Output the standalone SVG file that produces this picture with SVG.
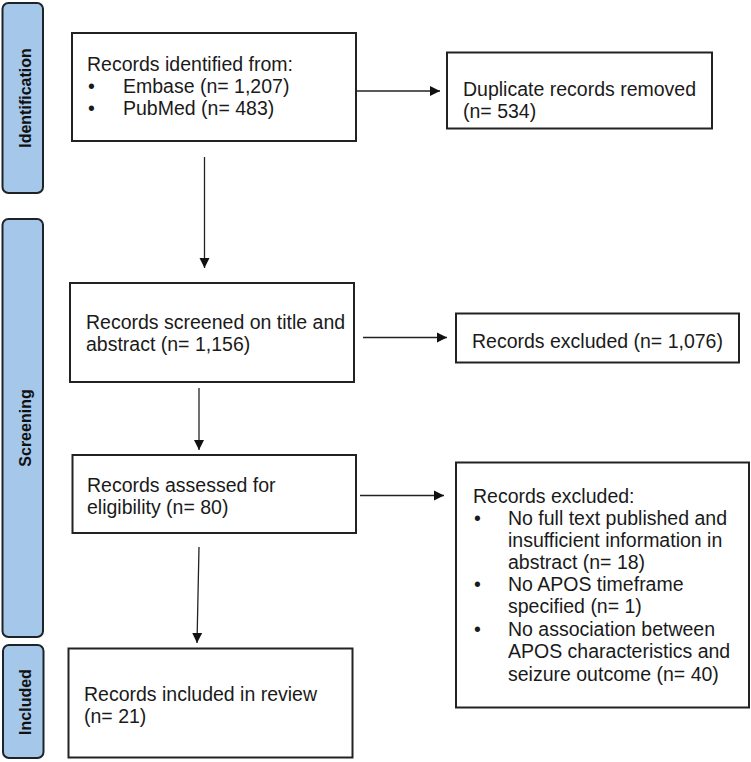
<svg xmlns="http://www.w3.org/2000/svg" width="751" height="762" viewBox="0 0 751 762">
<defs>
<style>
.lane{fill:#a4c7ea;stroke:#1e2328;stroke-width:2}
.lt{font-family:"Liberation Sans",Arial,sans-serif;font-weight:bold;font-size:16px;fill:#111;text-anchor:middle}
.box{fill:#fff;stroke:#222;stroke-width:2}
.t{font-family:"Liberation Sans",Arial,sans-serif;font-size:19.5px;fill:#1a1a1a}
.c{stroke:#222;stroke-width:1.3;fill:none;marker-end:url(#ah)}
</style>
<marker id="ah" viewBox="0 0 10 10" refX="10" refY="5" markerWidth="10" markerHeight="11" markerUnits="userSpaceOnUse" orient="auto">
<path d="M0,0 L10,5 L0,10 Z" fill="#111"/>
</marker>
</defs>
<g id="lane-identification">
<rect class="lane" x="2.5" y="3" width="40.5" height="190" rx="6"/>
<text class="lt" transform="translate(31,98) rotate(-90)">Identification</text>
</g>
<g id="lane-screening">
<rect class="lane" x="2.5" y="219" width="40.5" height="418" rx="6"/>
<text class="lt" transform="translate(31,428) rotate(-90)">Screening</text>
</g>
<g id="lane-included">
<rect class="lane" x="3" y="645" width="40.5" height="113" rx="6"/>
<text class="lt" transform="translate(31,702) rotate(-90)">Included</text>
</g>
<g id="connectors">
<path class="c" d="M356,91 H440"/>
<path class="c" d="M204.5,157 V268"/>
<path class="c" d="M363,337.5 H447"/>
<path class="c" d="M199,388 V450"/>
<path class="c" d="M360,495.5 H444"/>
<path class="c" d="M199,547 L197,643"/>
</g>
<g id="identified">
<rect class="box" x="72" y="33" width="284" height="108"/>
<text class="t" x="87" y="71">Records identified from:</text>
<text class="t" x="88" y="93">•</text>
<text class="t" x="123" y="93">Embase (n= 1,207)</text>
<text class="t" x="88" y="115">•</text>
<text class="t" x="123" y="115">PubMed (n= 483)</text>
</g>
<g id="duplicates">
<rect class="box" x="447" y="52.5" width="265" height="76"/>
<text class="t" x="463" y="96">Duplicate records removed</text>
<text class="t" x="463" y="117.5">(n= 534)</text>
</g>
<g id="screened">
<rect class="box" x="70" y="283" width="284" height="99"/>
<text class="t" x="86" y="329">Records screened on title and</text>
<text class="t" x="86" y="351">abstract (n= 1,156)</text>
</g>
<g id="excluded1">
<rect class="box" x="456" y="313.5" width="283" height="49"/>
<text class="t" x="472" y="348">Records excluded (n= 1,076)</text>
</g>
<g id="assessed">
<rect class="box" x="72.5" y="455" width="283.5" height="78"/>
<text class="t" x="87" y="492">Records assessed for</text>
<text class="t" x="87" y="514">eligibility (n= 80)</text>
</g>
<g id="excluded2">
<rect class="box" x="456" y="462.5" width="293" height="245"/>
<text class="t" x="473" y="503">Records excluded:</text>
<text class="t" x="474" y="525">•</text>
<text class="t" x="508" y="525">No full text published and</text>
<text class="t" x="508" y="547">insufficient information in</text>
<text class="t" x="508" y="569">abstract (n= 18)</text>
<text class="t" x="474" y="591">•</text>
<text class="t" x="508" y="591">No APOS timeframe</text>
<text class="t" x="508" y="613">specified (n= 1)</text>
<text class="t" x="474" y="636">•</text>
<text class="t" x="508" y="636">No association between</text>
<text class="t" x="508" y="658">APOS characteristics and</text>
<text class="t" x="508" y="680.5">seizure outcome (n= 40)</text>
</g>
<g id="included">
<rect class="box" x="68.5" y="648.5" width="284" height="109"/>
<text class="t" x="84" y="701">Records included in review</text>
<text class="t" x="84" y="723">(n= 21)</text>
</g>
</svg>
